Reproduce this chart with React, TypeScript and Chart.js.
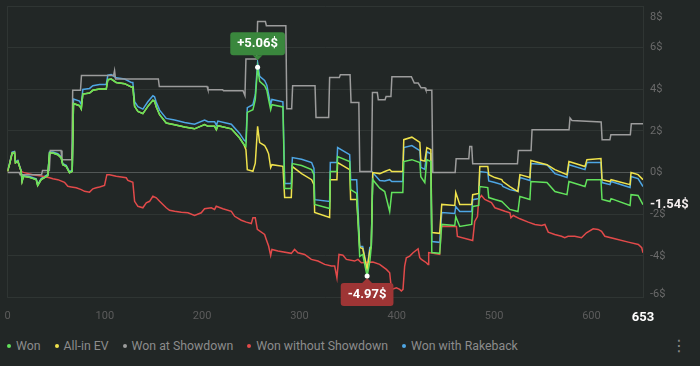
import React, { useEffect, useRef } from "react";
import { Chart, registerables } from "chart.js";

Chart.register(...registerables);

// ---- data (hand number -> cumulative $) ----
const wonHands = [0,2,4.8,7.2,8.2,10.6,14,15,16.4,22.6,29.5,31,34.6,41.4,43.2,46.6,51.7,55.2,56.8,60.3,63.7,66.5,67.8,74,75.8,77.4,84.3,87.7,94.6,101.5,103.1,106.6,111.7,120.3,127.2,128.8,130.6,134,139.1,144.2,149.4,151.1,152.9,156.3,163.1,171.7,182,192.2,202.5,206,212.8,214.6,216.2,230,238.5,243,245,246.4,252.2,254.6,257,259.1,264.2,266.5,268.3,270.4,271.7,283,284.8,291.6,292.7,302.2,312.5,314.9,315.6,331,331.7,338.5,339.2,351.6,352.6,358.8,361.9,365,369.5,372.3,373.8,375.3,382.5,387.6,392.7,394.8,406.2,407.2,415.5,423.7,424.7,428.8,430.9,435,436,444.1,446.2,459.6,460.6,464.7,477,478,484.2,485.3,493.5,494.5,500.8,507.9,509,516.2,524.5,526.5,536.8,537.8,554.3,562.5,574.9,576.9,593.4,595.4,609.8,610.9,619.1,620.2,639.7,640.7,647.9,653];

const wonValues = [0.06,0.38,0.94,0.97,0.47,0.54,0.06,-0.42,-0.18,-0.23,-0.34,-0.62,-0.34,-0.14,0.94,0.94,0.86,0.70,0.38,0.30,-0.01,0.06,3.31,3.21,3.05,3.77,3.82,3.95,4.01,4.01,4.46,4.49,4.33,4.27,4.11,4.11,3.18,2.94,2.83,3.18,3.47,3.42,3.15,2.78,2.38,2.30,2.19,2.10,2.30,2.22,2.22,2.06,2.25,2.10,1.66,1.34,1.26,2.89,3.02,3.50,5.06,4.38,4.17,3.95,3.50,3.02,3.26,3.15,-0.77,-0.77,0.43,0.34,0.14,-0.10,-1.53,-1.73,0.05,0.05,0.77,0.53,-0.82,-1.00,-4.03,-3.93,-4.97,-4.27,-3.55,-0.34,-0.75,-0.91,-1.87,-0.96,-0.96,0.53,0.62,0.48,-0.20,-0.48,0.62,0.53,-3.84,-3.88,-2.49,-2.54,-2.11,-2.59,-2.49,-1.63,-1.58,-0.67,-0.72,-1.20,-1.29,-1.39,-1.44,-1.77,-1.87,-1.15,-1.29,-0.43,-0.48,-0.91,-1.06,-0.43,-0.67,-0.34,-0.34,-1.29,-1.39,-1.25,-1.58,-1.06,-1.10,-1.54];

const allInEvValues = [0.06,0.38,0.94,0.97,0.47,0.54,0.06,-0.42,-0.18,-0.23,-0.34,-0.62,-0.34,-0.14,0.94,0.94,0.86,0.70,0.38,0.30,-0.01,0.06,3.31,3.21,3.05,3.77,3.82,3.95,4.01,4.01,4.46,4.49,4.33,4.27,4.11,4.11,3.18,2.94,2.83,3.18,3.47,3.42,3.15,2.78,2.38,2.30,2.19,2.10,2.30,2.22,2.22,2.06,2.25,2.10,1.66,1.34,1.10,0.14,0.06,0.45,2.22,1.44,1.30,1.10,0.90,0.24,0.38,0.30,-1.20,-1.20,0.29,-0.05,-0.34,-0.58,-1.92,-2.16,-0.34,-0.34,0.48,0.14,-1.29,-1.29,-3.60,-3.65,-4.65,-3.75,-3.55,0.00,-0.05,0.05,0.14,0.05,0.05,1.58,1.70,1.45,0.60,0.55,1.20,1.10,-2.88,-2.92,-1.53,-1.58,-0.96,-1.53,-1.53,-1.06,-1.00,0.29,0.29,-0.10,-0.24,-0.34,-0.43,-0.67,-0.91,-0.10,-0.24,0.58,0.38,0.14,-0.10,0.53,0.29,0.62,0.67,-0.34,-0.43,-0.34,-0.58,0.00,-0.10,-0.34];

const rakebackValues = [0.08,0.42,0.98,1.01,0.51,0.58,0.10,-0.38,-0.14,-0.19,-0.30,-0.58,-0.29,-0.09,0.99,0.99,0.91,0.75,0.43,0.35,0.04,0.11,3.53,3.43,3.27,3.99,4.04,4.17,4.23,4.23,4.68,4.71,4.55,4.49,4.33,4.33,3.40,3.16,3.05,3.40,3.69,3.64,3.37,3.00,2.60,2.52,2.41,2.32,2.52,2.44,2.44,2.28,2.47,2.32,1.88,1.56,1.48,3.12,3.26,3.74,5.28,4.62,4.42,4.20,3.75,3.27,3.51,3.40,-0.53,-0.53,0.72,0.64,0.48,0.20,-1.30,-1.39,0.48,0.48,1.20,0.86,-0.34,-0.34,-3.55,-3.55,-4.65,-3.60,-3.55,0.00,-0.38,-0.40,-0.34,-0.43,-0.43,1.20,1.30,1.05,0.25,0.15,1.00,0.90,-3.31,-3.35,-1.92,-1.96,-1.63,-1.87,-1.87,-1.30,-1.25,0.05,0.00,-0.40,-0.48,-0.58,-0.67,-0.82,-0.90,-0.24,-0.38,0.43,0.38,-0.05,-0.24,0.38,0.14,0.48,0.48,-0.48,-0.58,-0.43,-0.72,-0.19,-0.29,-0.67];

const showdownHands = [0,12,13,35,36,43,44,55,56,66,67,75,76,109,110,111,155,156,205,206,221,222,242,244,245,256,257,265,266,286,287,292,293,316,317,330,331,341,342,352,353,361,362,374,375,380,381,388,389,394,395,415,418,422,425,429,430,436,437,460,461,474,475,477,478,524,525,538,539,577,578,580,610,611,619,620,640,641,653];
const showdownValues = [0,0,-0.1,-0.1,0.1,0.1,1.06,1.06,0.62,0.62,3.95,3.95,4.66,4.66,4.9,4.5,4.5,4.13,4.13,3.98,3.98,3.93,3.93,3.7,5.45,5.45,7.25,7.25,7.05,7.05,3.07,3.07,4.17,4.17,2.65,2.65,4.57,4.57,4.7,4.7,3.36,3.36,0.05,0.05,3.84,3.84,3.5,3.5,3.65,3.65,4.6,4.6,4.3,4.3,4.07,4.07,3.95,3.95,0.0,0.0,0.66,0.66,1.25,1.25,0.42,0.42,1.06,1.06,2.06,2.06,2.62,2.5,2.43,1.58,1.58,1.82,1.82,2.34,2.34];

const nonShowdownHands = [0,2,4.8,7.2,8.2,10.6,14,16.4,26,36.3,43.2,46.6,51.7,58.6,62,65.5,70.6,75.8,79.2,84.3,87.7,91.2,94.6,99.7,102.1,104.9,111.7,122,123.7,128.8,130.6,134,139.1,142.6,146,149.4,152.9,156.3,159.7,163.1,166.5,171.7,178.6,185.4,192.2,199.1,202.5,209.4,212.8,214.5,221.3,230,233.4,240.2,245.4,250.5,252.2,254.6,256.7,264.2,265.9,268.3,270.4,271.7,277.9,291.6,295,298.4,305.3,312.2,319,325.9,332.8,336.2,338.5,340.6,344.7,348.2,356.7,360.1,363.6,375.5,382.4,389.3,392.7,394.5,399.6,403,404.7,406.4,408.1,409.8,413.3,416.7,421.9,423.6,425.3,430.4,432.1,432.8,444.1,445.8,461.3,462.3,478,480.1,482.9,484.2,487,490.4,497.3,500.8,506,511.1,516.3,517.3,519.7,526.5,535.1,541.9,548.8,552.2,555.6,562.3,569.2,572.6,576,582.9,589.8,594.9,601.8,606.9,610.4,613.8,624.1,637.9,648.2,651.7,653];
const nonShowdownValues = [0.06,0.38,0.94,0.97,0.47,0.54,0.06,0.01,-0.10,-0.18,-0.25,-0.30,-0.34,-0.47,-0.66,-0.69,-0.73,-0.82,-0.90,-0.94,-0.78,-0.73,-0.69,-0.62,-0.10,-0.10,-0.18,-0.25,-0.38,-0.47,-1.38,-1.62,-1.69,-1.45,-1.38,-1.14,-1.21,-1.38,-1.53,-1.69,-1.81,-1.86,-1.90,-1.93,-2.06,-1.93,-1.74,-1.69,-1.77,-1.62,-1.74,-1.86,-2.10,-2.29,-2.38,-2.45,-2.17,-2.17,-2.73,-2.97,-3.21,-3.53,-3.98,-3.69,-3.77,-3.88,-3.69,-3.85,-3.93,-4.17,-4.25,-4.41,-4.49,-4.49,-5.05,-3.93,-3.97,-4.17,-4.25,-4.17,-4.33,-4.30,-4.41,-4.65,-4.81,-5.61,-5.53,-5.61,-5.69,-5.61,-4.49,-4.09,-4.01,-3.85,-3.66,-4.09,-4.17,-4.33,-4.41,-3.84,-3.93,-2.58,-2.59,-3.07,-3.26,-2.35,-2.11,-1.29,-1.10,-1.29,-1.44,-1.69,-1.77,-1.86,-1.93,-2.17,-2.06,-2.22,-2.38,-2.49,-2.54,-2.49,-2.86,-2.97,-3.06,-3.13,-3.06,-3.06,-3.13,-2.89,-2.70,-2.73,-2.82,-3.06,-3.18,-3.34,-3.45,-3.61,-3.85];

const seriesLabels = ["Won", "All-in EV", "Won at Showdown", "Won without Showdown", "Won with Rakeback"];
const seriesColors = ["#62e25c", "#efe24c", "#9c9c9c", "#e24a4a", "#4ea6e4"];
const xTickValues = [0, 100, 200, 300, 400, 500, 600, 653];
const xMax = 653;
const yMin = -6;
const yMax = 8;
const yStep = 2;

const BG = "#222726";
const GRID = "#2f3533";
const ZERO = "#525756";
const FONT = "Roboto, 'Noto Sans', sans-serif";

function pts(xs: number[], ys: number[]) {
  return xs.map((x, i) => ({ x, y: ys[i] }));
}

function bubble(ctx: CanvasRenderingContext2D, cx: number, py: number, text: string, color: string, above: boolean) {
  ctx.save();
  ctx.font = `bold 13px ${FONT}`;
  const w = ctx.measureText(text).width + 14;
  const h = 23;
  const top = above ? py - 12 - h : py + 7;
  const left = cx - w / 2;
  ctx.fillStyle = color;
  ctx.beginPath();
  (ctx as any).roundRect(left, top, w, h, 3);
  ctx.fill();
  ctx.beginPath();
  if (above) {
    ctx.moveTo(cx - 5, top + h);
    ctx.lineTo(cx + 5, top + h);
    ctx.lineTo(cx, py - 7);
  } else {
    ctx.moveTo(cx - 5, top);
    ctx.lineTo(cx + 5, top);
    ctx.lineTo(cx, py + 2);
  }
  ctx.closePath();
  ctx.fill();
  ctx.fillStyle = "#ffffff";
  ctx.textAlign = "center";
  ctx.textBaseline = "middle";
  ctx.fillText(text, cx, top + h / 2 + 0.5);
  ctx.beginPath();
  ctx.arc(cx, py, 2.5, 0, Math.PI * 2);
  ctx.fill();
  ctx.restore();
}

const overlayPlugin = {
  id: "overlay",
  afterDraw(chart: any) {
    const { ctx, chartArea, scales } = chart;
    const xs = scales.x;
    const ys = scales.y;
    ctx.save();
    ctx.font = `11px ${FONT}`;
    ctx.fillStyle = "#6a6a6a";
    ctx.textAlign = "left";
    ctx.textBaseline = "middle";
    ctx.fillText(`${yMax}$`, chartArea.right + 7, ys.getPixelForValue(yMax) + 11);
    ctx.fillText(`${yMin}$`, chartArea.right + 7, ys.getPixelForValue(yMin) - 3);
    const last = wonValues[wonValues.length - 1];
    ctx.font = `bold 13px ${FONT}`;
    ctx.fillStyle = "#f4eeee";
    ctx.fillText(`${last.toFixed(2)}$`, chartArea.right + 7, ys.getPixelForValue(last));
    ctx.restore();
    let maxI = 0;
    let minI = 0;
    wonValues.forEach((v, i) => {
      if (v > wonValues[maxI]) maxI = i;
      if (v < wonValues[minI]) minI = i;
    });
    const vMax = wonValues[maxI];
    const vMin = wonValues[minI];
    bubble(ctx, xs.getPixelForValue(wonHands[maxI]), ys.getPixelForValue(vMax), `+${vMax.toFixed(2)}$`, "#3a873d", true);
    bubble(ctx, xs.getPixelForValue(wonHands[minI]), ys.getPixelForValue(vMin), `${vMin.toFixed(2)}$`, "#9e3535", false);
  },
};

export default function App() {
  const ref = useRef<HTMLCanvasElement | null>(null);

  useEffect(() => {
    if (!ref.current) return;
    const datasets = [
      pts(wonHands, wonValues),
      pts(wonHands, allInEvValues),
      pts(showdownHands, showdownValues),
      pts(nonShowdownHands, nonShowdownValues),
      pts(wonHands, rakebackValues),
    ].map((data, i) => ({
      label: seriesLabels[i],
      data,
      borderColor: seriesColors[i],
      backgroundColor: seriesColors[i],
      borderWidth: 1.5,
      pointRadius: 0,
      tension: 0,
      fill: false,
    }));

    const chart = new Chart(ref.current, {
      type: "line",
      data: { datasets },
      plugins: [overlayPlugin],
      options: {
        animation: false,
        responsive: false,
        events: [],
        layout: { padding: { left: 7.5, top: 6, right: 0, bottom: 0 } },
        plugins: { legend: { display: false }, tooltip: { enabled: false } },
        scales: {
          x: {
            type: "linear",
            min: 0,
            max: xMax,
            afterBuildTicks: (s: any) => {
              s.ticks = xTickValues.map((v) => ({ value: v }));
            },
            afterFit: (s: any) => {
              s.height = 34.5;
              s.paddingLeft = 0;
              s.paddingRight = 0;
            },
            ticks: {
              autoSkip: false,
              maxRotation: 0,
              minRotation: 0,
              padding: 12,
              callback: (v: any) => String(v),
              color: (c: any) => (c.tick && c.tick.value === xMax ? "#ffffff" : "#5c5c5c"),
              font: (c: any) =>
                c.tick && c.tick.value === xMax
                  ? { size: 13, weight: "bold", family: FONT }
                  : { size: 11, family: FONT },
            },
            grid: {
              drawTicks: false,
              color: (c: any) => (c.tick && (c.tick.value === 0 || c.tick.value === xMax) ? GRID : "rgba(0,0,0,0)"),
            },
            border: { display: false },
          },
          y: {
            type: "linear",
            position: "right",
            min: yMin,
            max: yMax,
            afterFit: (s: any) => {
              s.width = 57;
              s.paddingTop = 0;
              s.paddingBottom = 0;
            },
            ticks: {
              stepSize: yStep,
              padding: 7,
              callback: (v: any) => `${v}$`,
              color: (c: any) =>
                c.tick && (c.tick.value === yMax || c.tick.value === yMin) ? "rgba(0,0,0,0)" : "#6a6a6a",
              font: { size: 11, family: FONT },
            },
            grid: {
              drawTicks: false,
              color: (c: any) => (c.tick && c.tick.value === 0 ? ZERO : GRID),
            },
            border: { display: false },
          },
        },
      } as any,
    });
    return () => chart.destroy();
  }, []);

  return (
    <div style={{ position: "fixed", left: 0, top: 0, width: 700, height: 366, background: BG, overflow: "hidden" }}>
      <canvas ref={ref} width={700} height={332} style={{ display: "block", width: 700, height: 332 }} />
      <div
        style={{
          position: "absolute",
          left: 0,
          top: 337,
          height: 18,
          display: "flex",
          alignItems: "center",
          paddingLeft: 7,
          fontFamily: FONT,
          fontSize: 12.3,
          lineHeight: "18px",
          color: "#8c8c8c",
          whiteSpace: "nowrap",
        }}
      >
        {seriesLabels.map((l, i) => (
          <div key={l} style={{ display: "flex", alignItems: "center", marginRight: 14 }}>
            <span
              style={{ width: 4, height: 4, borderRadius: "50%", background: seriesColors[i], marginRight: 5, display: "inline-block" }}
            />
            <span>{l}</span>
          </div>
        ))}
      </div>
      <div
        style={{
          position: "absolute",
          left: 671,
          top: 337,
          height: 18,
          lineHeight: "18px",
          fontSize: 16,
          color: "#8a8a8a",
          fontFamily: "'DejaVu Sans', sans-serif",
        }}
      >
        ⋮
      </div>
    </div>
  );
}
